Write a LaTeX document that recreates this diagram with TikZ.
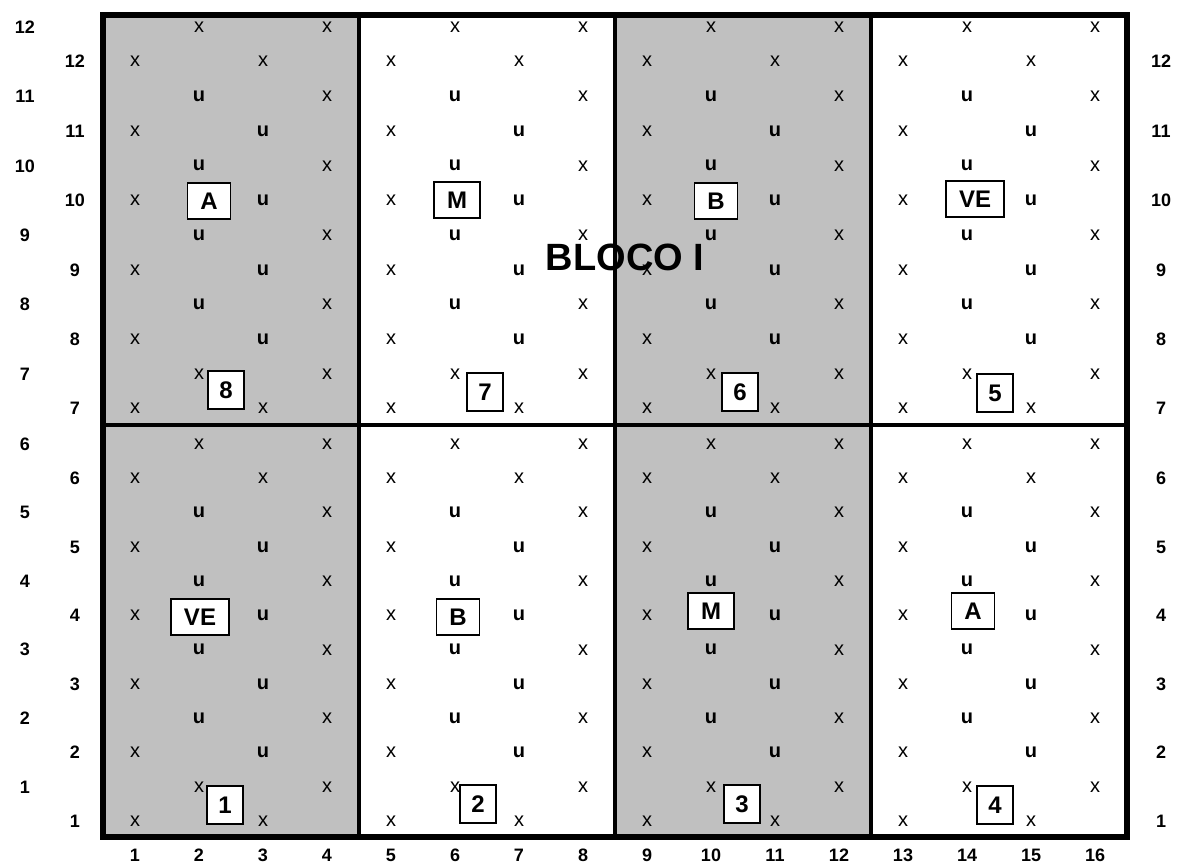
\documentclass[tikz,border=0pt]{standalone}
\usepackage{fontspec}
\setmainfont{Liberation Sans}
\usetikzlibrary{positioning}
\definecolor{plotgray}{RGB}{192,192,192}

\begin{document}
\begin{tikzpicture}[
    x=0.5pt, y=-0.5pt,
    plantx/.style={inner sep=0pt, font=\fontsize{10}{12}\selectfont},
    plantu/.style={inner sep=0pt, font=\fontsize{10}{12}\selectfont\bfseries},
    rowlab/.style={inner sep=0pt, font=\fontsize{9}{11}\selectfont\bfseries},
    trt/.style={
        rectangle,
        draw,
        fill=white,
        line width=0.7pt,
        minimum height=18pt,
        inner xsep=6.5pt,
        inner ysep=0pt,
        font=\fontsize{12}{14}\selectfont\bfseries
    },
    plotnum/.style={trt, minimum width=18pt, minimum height=19pt, inner xsep=0pt}
]

\useasboundingbox (0,0) rectangle (1178,863);

\fill[plotgray] (103,15) rectangle (359,837);
\fill[plotgray] (615,15) rectangle (871,837);
\foreach \xx in {359,615,871}
    \draw[line width=2.4pt] (\xx,15) -- (\xx,837);
\draw[line width=2.4pt] (103,425) -- (1127,425);
\draw[line width=3pt] (103,15) rectangle (1127,837);

\foreach \j in {0,...,23} {
    \pgfmathtruncatemacro\k{mod(\j,12)}
    \pgfmathsetmacro\yy{\j<12 ? 27+34.7*\j : 444+34.3*(\j-12)}
    \pgfmathtruncatemacro\num{12-floor(\j/2)}
    \pgfmathtruncatemacro\edge{(\k<2)||(\k>9)}
    \pgfmathtruncatemacro\ev{1-mod(\k,2)}
    \ifodd\k
        \node[rowlab] (ri-\j) at (75,\yy) {\num};
        \node[rowlab] (rr-\j) at (1161,\yy) {\num};
    \else
        \node[rowlab] (ro-\j) at (25,\yy) {\num};
    \fi
    \foreach \g in {0,...,3} {
        % column of the border x and of the plant (u) in this row
        \pgfmathtruncatemacro\cx{\ev ? 4*\g+4 : 4*\g+1}
        \pgfmathtruncatemacro\cu{\ev ? 4*\g+2 : 4*\g+3}
        \pgfmathsetmacro\xx{135+64*(\cx-1)}
        \pgfmathsetmacro\xu{135+64*(\cu-1)}
        \ifnum\edge=1
            \node[plantx] (p-\cu-\j) at (\xu,\yy) {x};
        \else
            \node[plantu] (p-\cu-\j) at (\xu,\yy) {u};
        \fi
        \node[plantx] (p-\cx-\j) at (\xx,\yy) {x};
    }
}

\foreach \c in {1,...,16}
    \node[rowlab] (col-\c) at ({135+64*(\c-1)},855) {\c};

\node[trt] (t8) at (209,201) {A};
\node[trt] (t7) at (457,200) {M};
\node[trt] (t6) at (716,201) {B};
\node[trt] (t5) at (975,199) {VE};
\node[trt] (t1) at (200,617) {VE};
\node[trt] (t2) at (458,617) {B};
\node[trt] (t3) at (711,611) {M};
\node[trt] (t4) at (973,611) {A};

\node[plotnum] (n8) at (226,390) {8};
\node[plotnum] (n7) at (485,392) {7};
\node[plotnum] (n6) at (740,392) {6};
\node[plotnum] (n5) at (995,393) {5};
\node[plotnum] (n1) at (225,805) {1};
\node[plotnum] (n2) at (478,804) {2};
\node[plotnum] (n3) at (742,804) {3};
\node[plotnum] (n4) at (995,805) {4};

\node[font=\fontsize{19}{22}\selectfont\bfseries, inner sep=0pt, anchor=base] (bloco) at (625,270) {BLOCO I};

\end{tikzpicture}
\end{document}
